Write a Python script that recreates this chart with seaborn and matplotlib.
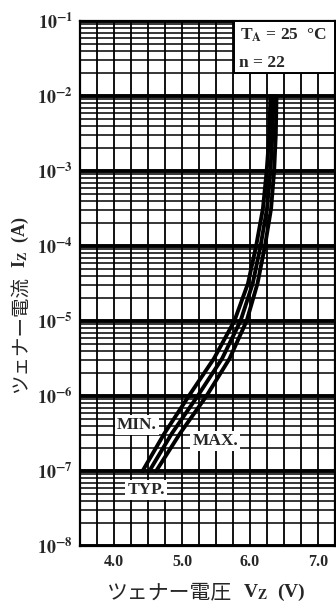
import matplotlib
matplotlib.use("Agg")
import matplotlib.pyplot as plt
import matplotlib.ticker as mticker
from matplotlib.patches import Rectangle
import numpy as np
import pandas as pd
import seaborn as sns

# ---- data ----
current = [1.0e-7, 3.16e-7, 1.0e-6, 3.16e-6, 1.0e-5, 3.16e-5, 1.0e-4, 3.16e-4, 1.0e-3, 3.16e-3, 1.0e-2]
v_min = [4.42, 4.74, 5.10, 5.47, 5.77, 5.97, 6.09, 6.19, 6.245, 6.285, 6.30]
v_typ = [4.52, 4.85, 5.23, 5.59, 5.86, 6.04, 6.155, 6.25, 6.30, 6.33, 6.345]
v_max = [4.62, 4.97, 5.36, 5.70, 5.95, 6.11, 6.22, 6.31, 6.355, 6.38, 6.39]
x_ticks = [4.0, 5.0, 6.0, 7.0]
x_tick_labels = ["4.0", "5.0", "6.0", "7.0"]
y_ticks = [1e-8, 1e-7, 1e-6, 1e-5, 1e-4, 1e-3, 1e-2, 1e-1]
y_tick_labels = [r"$10^{-8}$", r"$10^{-7}$", r"$10^{-6}$", r"$10^{-5}$",
                 r"$10^{-4}$", r"$10^{-3}$", r"$10^{-2}$", r"$10^{-1}$"]

df = pd.DataFrame({
    "I": current * 3,
    "V": v_min + v_typ + v_max,
    "curve": ["MIN."] * len(current) + ["TYP."] * len(current) + ["MAX."] * len(current),
})

sns.set_theme(style="white")
plt.rcParams["font.family"] = ["Liberation Serif", "Noto Sans CJK JP"]
plt.rcParams["mathtext.fontset"] = "stix"
plt.rcParams["mathtext.default"] = "bf"
plt.rcParams["font.weight"] = "bold"

fig = plt.figure(figsize=(3.36, 6.10), dpi=100)
ax = fig.add_axes([80 / 336, 64 / 610, 255 / 336, 525 / 610])

sns.lineplot(data=df, x="V", y="I", hue="curve", sort=False, estimator=None,
             palette=["black", "black", "black"], linewidth=2.8, legend=False,
             ax=ax, zorder=5)

ax.set_yscale("log")
ax.set_xlim(3.5, 7.25)
ax.set_ylim(1e-8, 1e-1)

ax.xaxis.set_major_locator(mticker.FixedLocator(x_ticks))
ax.xaxis.set_minor_locator(mticker.MultipleLocator(0.25))
ax.set_xticklabels(x_tick_labels)
ax.yaxis.set_major_locator(mticker.FixedLocator(y_ticks))
ax.yaxis.set_minor_locator(mticker.LogLocator(base=10, subs=np.arange(2, 10)))
ax.set_yticklabels(y_tick_labels)
ax.yaxis.set_minor_formatter(mticker.NullFormatter())

ax.grid(which="minor", axis="x", color="black", lw=1.3)
ax.grid(which="major", axis="x", color="black", lw=1.3)
ax.grid(which="major", axis="y", color="black", lw=2.8)
ax.grid(which="minor", axis="y", color="black", lw=1.1)
ax.tick_params(which="both", length=0, pad=6)
ax.tick_params(axis="x", labelsize=11.5)
ax.tick_params(axis="y", labelsize=13, pad=5)
for lab in ax.get_xticklabels() + ax.get_yticklabels():
    lab.set_fontweight("bold")
for s in ax.spines.values():
    s.set_color("black")
    s.set_linewidth(1.6)

ax.set_xlabel("")
ax.set_ylabel("")

# curve labels
lab_kw = dict(fontsize=12.5, fontweight="bold", ha="center", va="center", zorder=6,
              bbox=dict(facecolor="white", edgecolor="none", pad=1.5))
ax.text(4.34, 4.1e-7, "MIN.", **lab_kw)
ax.text(5.49, 2.5e-7, "MAX.", **lab_kw)
ax.text(4.47, 5.6e-8, "TYP.", **lab_kw)

# condition box
box_x0 = (234 - 80) / 255
box_y0 = 1 - 52 / 525
ax.add_patch(Rectangle((box_x0, box_y0), 1 - box_x0, 1 - box_y0, transform=ax.transAxes,
                       facecolor="white", edgecolor="black", lw=1.4, zorder=7, clip_on=False))
ax.text(box_x0 + 0.025, 1 - 14 / 525, r"T$_{\mathrm{A}}$ = 25  °C", transform=ax.transAxes,
        fontsize=12.5, fontweight="bold", ha="left", va="center", zorder=8)
ax.text(box_x0 + 0.02, 1 - 42 / 525, "n = 22", transform=ax.transAxes,
        fontsize=12.5, fontweight="bold", ha="left", va="center", zorder=8)

# axis titles (Japanese part + math part chained)
tx = fig.text(107 / 336, 1 - 592 / 610, "ツェナー電圧", family="Noto Sans CJK JP",
              fontsize=15, fontweight="normal", ha="left", va="center")
ax.annotate(r"V$_{\mathrm{Z}}$  (V)", xy=(1, 0.5), xycoords=tx, xytext=(8, 0),
            textcoords="offset points", fontsize=14, ha="left", va="center",
            annotation_clip=False)

ty = fig.text(20 / 336, 1 - 393 / 610, "ツェナー電流", family="Noto Sans CJK JP",
              fontsize=14, fontweight="normal", ha="center", va="bottom", rotation=90)
ax.annotate(r"I$_{\mathrm{Z}}$  (A)", xy=(0.5, 1), xycoords=ty, xytext=(0, 6),
            textcoords="offset points", fontsize=13, ha="center", va="bottom",
            rotation=90, annotation_clip=False)

fig.savefig("out.png", dpi=100, facecolor="white")
